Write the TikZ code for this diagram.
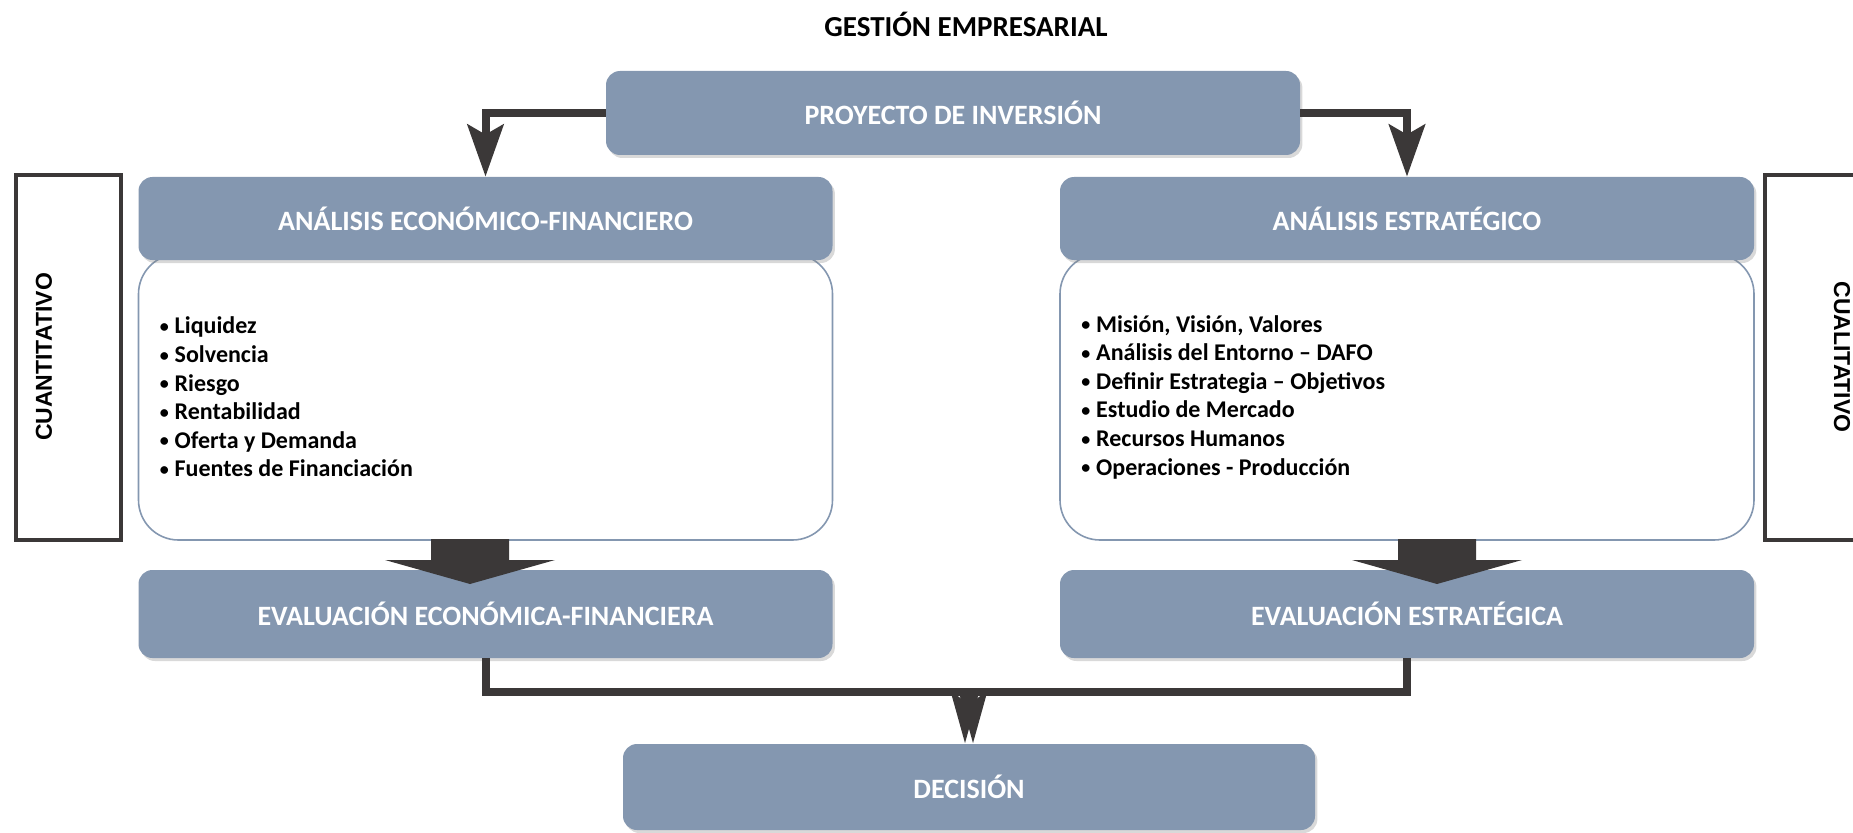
\documentclass[tikz,border=0pt]{standalone}
\usepackage{fontspec}
\setmainfont{Carlito}
\newfontfamily\arialfont{Liberation Sans}
\usetikzlibrary{shapes,positioning,calc,arrows.meta,shadows}

\definecolor{boxblue}{HTML}{8497B0}
\definecolor{arrowgray}{HTML}{3B3838}

% small bullet for the lists
\newcommand{\vineta}{{\fontsize{9}{9}\selectfont\raisebox{0.15ex}{\textbullet}}\hspace{3pt}}

\tikzset{
  headbox/.style={fill=boxblue, rounded corners=7pt, minimum width=347pt,
    minimum height=42pt, text=white, font=\bfseries\fontsize{14}{16}\selectfont,
    drop shadow={shadow xshift=1.2pt, shadow yshift=-1.5pt, opacity=0.3}},
  listbox/.style={draw=boxblue, line width=0.8pt, fill=white, rounded corners=20pt,
    minimum width=347pt, minimum height=143pt},
  conn/.style={draw=arrowgray, line width=4pt,
    -{Stealth[length=26pt,width=18pt,inset=5pt]}},
  sidebox/.style={draw=arrowgray, line width=2pt, minimum width=52.5pt, minimum height=182.5pt},
  sidetext/.style={font=\arialfont\bfseries\fontsize{11.5}{13}\selectfont},
  items/.style={align=left, anchor=west, font=\bfseries\fontsize{12}{14.3}\selectfont}
}

\begin{document}
\begin{tikzpicture}[x=0.5pt, y=0.5pt]
    \useasboundingbox (0,0) rectangle (1853,832);

    % Title
    \node (titulo) at (966,808) {\bfseries\fontsize{14.5}{16}\selectfont GESTIÓN EMPRESARIAL};

    % Side boxes
    \node[sidebox] (cuanti) at (68.5,474.5) {};
    \node[sidebox] (cuali) at (1817.5,474.5) {};
    \node[sidetext, rotate=90] (cuantiText) at (44,475) {CUANTITATIVO};
    \node[sidetext, rotate=-90] (cualiText) at (1842,475) {CUALITATIVO};

    % Content boxes (behind the headers)
    \node[listbox] (contenidoEF) at (485.5,435) {};
    \node[listbox] (contenidoE) at (1407,435) {};

    \node[items] (listaEF) at ($(contenidoEF.west)+(15,0)$) {%
        \vineta Liquidez\\
        \vineta Solvencia\\
        \vineta Riesgo\\
        \vineta Rentabilidad\\
        \vineta Oferta y Demanda\\
        \vineta Fuentes de Financiación};
    \node[items] (listaE) at ($(contenidoE.west)+(15,0)$) {%
        \vineta Misión, Visión, Valores\\
        \vineta Análisis del Entorno – DAFO\\
        \vineta Definir Estrategia – Objetivos\\
        \vineta Estudio de Mercado\\
        \vineta Recursos Humanos\\
        \vineta Operaciones - Producción};

    % Blue boxes
    \node[headbox] (proyecto) at (953,719) {PROYECTO DE INVERSIÓN};
    \node[headbox, minimum height=41.5pt] (analisisEF) at (485.5,613.5) {ANÁLISIS ECONÓMICO-FINANCIERO};
    \node[headbox, minimum height=41.5pt] (analisisE) at (1407,613.5) {ANÁLISIS ESTRATÉGICO};
    \node[headbox, minimum height=44pt] (evaluacionEF) at (485.5,218) {EVALUACIÓN ECONÓMICA-FINANCIERA};
    \node[headbox, minimum height=44pt] (evaluacionE) at (1407,218) {EVALUACIÓN ESTRATÉGICA};
    \node[headbox, minimum width=346pt, minimum height=43pt] (decision) at (969,45) {DECISIÓN};

    % Thick arrows from the lists to the evaluations
    \foreach \cx in {470,1437} {
        \fill[arrowgray] (\cx-39,293) -- (\cx+39,293) -- (\cx+39,272) -- (\cx+85,272)
            -- (\cx,248) -- (\cx-85,272) -- (\cx-39,272) -- cycle;
    }

    % Connectors
    \draw[conn] (proyecto.west) -| (analisisEF.north);
    \draw[conn] (proyecto.east) -| (analisisE.north);

    \coordinate (joinL) at ($(decision.north)+(-4,52)$);
    \coordinate (joinR) at ($(decision.north)+(4,52)$);
    \draw[conn, -{Stealth[length=26pt,width=14pt,inset=5pt]}] (evaluacionEF.south) |- (joinL) -- (joinL |- decision.north);
    \draw[conn, -{Stealth[length=26pt,width=14pt,inset=5pt]}] (evaluacionE.south) |- (joinR) -- (joinR |- decision.north);
\end{tikzpicture}
\end{document}
